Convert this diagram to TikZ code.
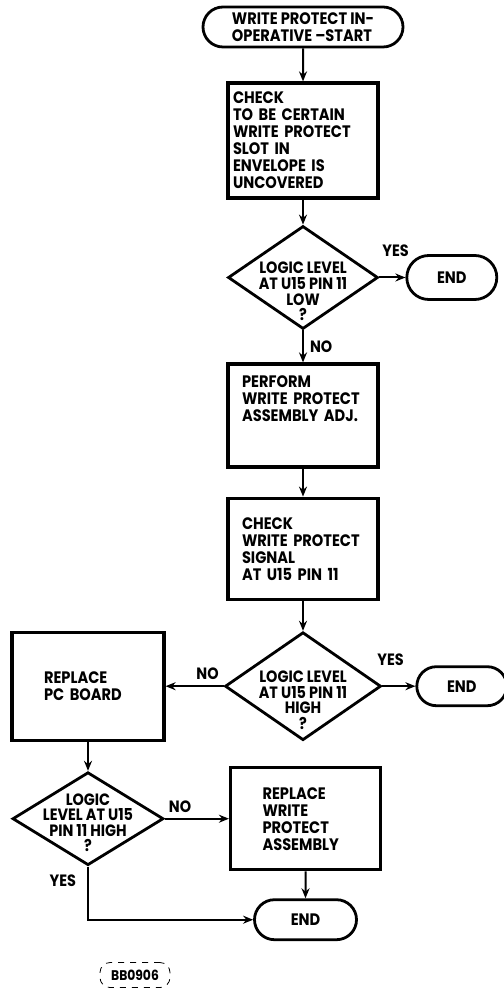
\documentclass[tikz,border=0pt]{standalone}
\usepackage{fontspec}
\setmainfont{Poppins}[FakeStretch=0.88]
\usetikzlibrary{positioning,arrows.meta,shapes.geometric,shapes.misc}

\newcommand{\flowfont}{\bfseries\fontsize{8.3}{8.5}\selectfont}
\newcommand{\askfont}{\bfseries\fontsize{8.2}{7.8}\selectfont}

\begin{document}
\begin{tikzpicture}[
    node distance=14pt and 14pt,
    proc/.style={draw, line width=1.6pt, minimum width=75pt, align=left, font=\flowfont, inner ysep=0pt},
    term/.style={draw, rounded rectangle, line width=1.4pt, minimum height=20pt, align=left, font=\flowfont, inner sep=0pt},
    ask/.style={draw, diamond, line width=1.4pt, inner sep=0pt},
    asktext/.style={align=center, font=\askfont, inner sep=0pt},
    arr/.style={-{Stealth[length=5pt, width=4pt]}, line width=1pt},
    lbl/.style={font=\askfont, inner sep=0pt}
]
    \useasboundingbox (0,0) rectangle (251.5pt,-494pt);

    % Main column
    \node[term, minimum width=100pt] (start) at (151.5pt,-13.5pt) {WRITE PROTECT IN-\\OPERATIVE –START};
    \node[proc, minimum height=57.5pt, text width=70pt, inner xsep=2.5pt, below=16.5pt of start] (chk) {CHECK\\TO BE CERTAIN\\WRITE PROTECT\\SLOT IN\\ENVELOPE IS\\UNCOVERED};
    \node[ask, minimum width=75pt, minimum height=51.5pt, below=12.5pt of chk] (d1) {};
    \node[asktext] (d1txt) at ([yshift=-7pt]d1.center) {LOGIC LEVEL\\AT U15 PIN 11\\LOW\\?};
    \node[term, minimum width=45pt, minimum height=22pt, right=13pt of d1] (end1) {END};
    \node[proc, minimum height=51.5pt, text width=61pt, inner xsep=7pt, below=16pt of d1] (adj) {PERFORM\\WRITE PROTECT\\ASSEMBLY ADJ.\\\mbox{}\\\mbox{}};
    \node[proc, minimum height=50.5pt, text width=61pt, inner xsep=7pt, below=14pt of adj] (sig) {CHECK\\WRITE PROTECT\\SIGNAL\\AT U15 PIN 11};
    \node[ask, minimum width=78pt, minimum height=54pt, below=15pt of sig] (d2) {};
    \node[asktext] (d2txt) at ([yshift=-7pt]d2.center) {LOGIC LEVEL\\AT U15 PIN 11\\HIGH\\?};
    \node[term, minimum width=45pt, minimum height=19.5pt, right=16.5pt of d2] (end2) {END};

    % Left branch
    \node[proc, minimum height=54pt, text width=44pt, inner xsep=16pt, left=29pt of d2] (pcb) {REPLACE\\PC BOARD};
    \node[ask, minimum width=75.5pt, minimum height=46.5pt, below=14.5pt of pcb] (d3) {};
    \node[asktext] (d3txt) at ([yshift=-2pt]d3.center) {LOGIC\\LEVEL AT U15\\PIN 11 HIGH\\?};
    \node[proc, minimum height=51pt, text width=43pt, inner xsep=16pt, right=32pt of d3] (wpa) {REPLACE\\WRITE\\PROTECT\\ASSEMBLY};
    \node[term, minimum width=51pt, below=13.5pt of wpa] (end3) {END};

    % Drawing number
    \node[draw, dashed, rounded corners=5pt, minimum width=35pt, minimum height=12.5pt, inner sep=0pt, font=\bfseries\fontsize{7}{7}\selectfont] (tag) at (67.5pt,-487.5pt) {BB0906};

    % Connections
    \draw[arr] (start) -- (chk);
    \draw[arr] (chk) -- (d1);
    \draw[arr] (d1.east) -- (end1.west) node[lbl, pos=0, anchor=south west, xshift=1pt, yshift=10pt] (yes1) {YES};
    \draw[arr] (d1.south) -- (adj.north) node[lbl, pos=0, anchor=north west, xshift=3pt, yshift=-4.5pt] (no1) {NO};
    \draw[arr] (adj) -- (sig);
    \draw[arr] (sig) -- (d2);
    \draw[arr] (d2.east) -- (end2.west) node[lbl, pos=0, anchor=south west, xshift=-3pt, yshift=10pt] (yes2) {YES};
    \draw[arr] (d2.west) -- (pcb.east) node[lbl, pos=0, anchor=south east, xshift=-2pt, yshift=3pt] (no2) {NO};
    \draw[arr] (pcb) -- (d3);
    \draw[arr] (d3.east) -- (wpa.west) node[lbl, pos=0, anchor=south west, xshift=1.5pt, yshift=2.5pt] (no3) {NO};
    \draw[arr] (wpa) -- (end3);
    \draw[arr] (d3.south) |- (end3.west) node[lbl, pos=0, anchor=north east, xshift=-5.5pt, yshift=-3.5pt] (yes3) {YES};
\end{tikzpicture}
\end{document}
